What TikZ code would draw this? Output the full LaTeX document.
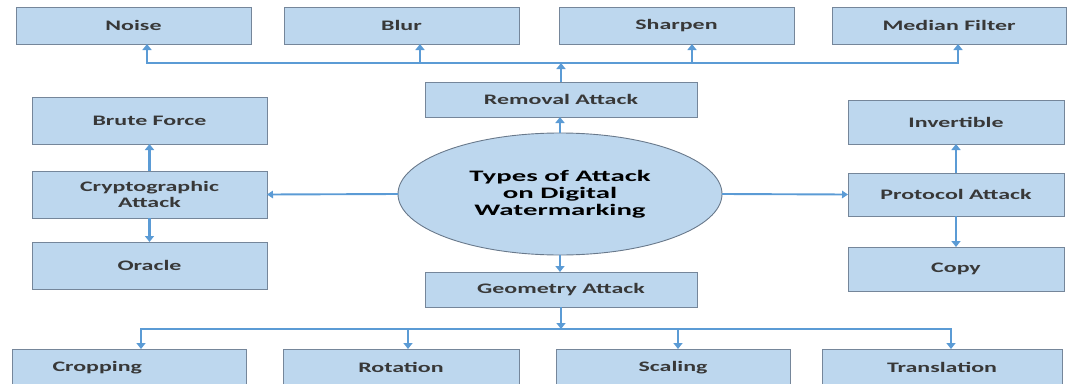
\documentclass[tikz,border=0pt]{standalone}
\usepackage{fontspec}
\usetikzlibrary{arrows.meta,shapes.geometric}
\newfontfamily\boxfont[FakeStretch=1.65]{Carlito}
\newfontfamily\ellfont[FakeStretch=1.8]{Carlito}
\definecolor{boxfill}{HTML}{BDD7EE}
\definecolor{boxline}{HTML}{75869A}
\definecolor{boxtext}{HTML}{383838}
\definecolor{arrowblue}{HTML}{5B9BD5}
\tikzset{
  box/.style={draw=boxline, fill=boxfill, line width=0.9pt, inner sep=0pt,
    outer sep=0pt, align=center, text=boxtext,
    font=\boxfont\bfseries\fontsize{14.5}{16}\selectfont},
  rootnode/.style={ellipse, draw=boxline!90!black, fill=boxfill, line width=0.9pt,
    inner sep=0pt, outer sep=0pt, align=center, text=black,
    font=\ellfont\bfseries\fontsize{16}{17}\selectfont},
  bus/.style={draw=arrowblue, line width=2.9pt, line cap=rect},
  conn/.style={draw=arrowblue, line width=2.9pt, -{Triangle[length=6pt,width=9pt]}},
  connthin/.style={draw=arrowblue, line width=1.9pt, -{Triangle[length=6pt,width=7.5pt]}},
}
\begin{document}
\begin{tikzpicture}[x=1pt, y=-1pt]
\useasboundingbox (0,0) rectangle (1071,383);
\clip (0,0) rectangle (1071,383);

% removal attacks (top row)
\node[box, minimum width=235pt, minimum height=37pt] (noise)   at (133.5,25.5) {Noise};
\node[box, minimum width=235pt, minimum height=37pt] (blur)    at (401.5,25.5) {Blur};
\node[box, minimum width=235pt, minimum height=37pt] (sharpen) at (676.5,25.5) {Sharpen};
\node[box, minimum width=234pt, minimum height=37pt] (median)  at (949,25.5)   {Median Filter};
\node[box, minimum width=272pt, minimum height=35pt] (removal) at (561,99.5)   {Removal Attack};

% centre
\node[rootnode, minimum width=324pt, minimum height=122pt] (root) at (560,194)
  {Types of Attack\\on Digital\\Watermarking};

% cryptographic attacks (left column)
\node[box, minimum width=235pt, minimum height=47pt] (brute)  at (149.5,120.5) {Brute Force};
\node[box, minimum width=235pt, minimum height=47pt] (crypto) at (149.5,194.5) {Cryptographic\\Attack};
\node[box, minimum width=235pt, minimum height=47pt] (oracle) at (149.5,265.5) {Oracle};

% protocol attacks (right column)
\node[box, minimum width=216pt, minimum height=44pt] (invert)   at (956,122)   {Invertible};
\node[box, minimum width=216pt, minimum height=43pt] (protocol) at (956,194.5) {Protocol Attack};
\node[box, minimum width=216pt, minimum height=44pt] (copy)     at (956,269)   {Copy};

% geometry attacks (bottom row)
\node[box, minimum width=272pt, minimum height=35pt] (geometry) at (561,289.5) {Geometry Attack};
\node[box, text width=154pt, inner xsep=40pt, align=left, minimum height=37pt] (crop) at (129.5,367.5) {Cropping};
\node[box, minimum width=236pt, minimum height=37pt] (rot)   at (401,367.5) {Rotation};
\node[box, minimum width=234pt, minimum height=37pt] (scal)  at (673,367.5) {Scaling};
\node[box, minimum width=240pt, minimum height=37pt] (trans) at (942,367.5) {Translation};

% top bus
\coordinate (tb1) at (147,63);
\coordinate (tb2) at (420,63);
\coordinate (tb3) at (692,63);
\coordinate (tb4) at (958,63);
\coordinate (tbm) at (561,63);
\draw[bus] (tb1) -- (tb4);
\draw[conn] (removal.north) -- (tbm);
\draw[conn] (tb1) -- (tb1 |- noise.south);
\draw[conn] (tb2) -- (tb2 |- blur.south);
\draw[conn] (tb3) -- (tb3 |- sharpen.south);
\draw[conn] (tb4) -- (tb4 |- median.south);

% bottom bus
\coordinate (bb1) at (141,329);
\coordinate (bb2) at (408,329);
\coordinate (bb3) at (678,329);
\coordinate (bb4) at (951,329);
\coordinate (bbm) at (561,329);
\draw[bus] (bb1) -- (bb4);
\draw[conn] (geometry.south) -- (bbm);
\draw[conn] (bb1) -- (bb1 |- crop.north);
\draw[conn] (bb2) -- (bb2 |- rot.north);
\draw[conn] (bb3) -- (bb3 |- scal.north);
\draw[conn] (bb4) -- (bb4 |- trans.north);

% centre to the four attack groups
\draw[conn] (root.north) -- (root.north |- removal.south);
\draw[conn] (root.south) -- (root.south |- geometry.north);
\draw[connthin] (root.west) -- (crypto.east);
\draw[connthin] (root.east) -- (protocol.west);

% column links
\draw[conn] (crypto.north) -- (brute.south);
\draw[conn] (crypto.south) -- (oracle.north);
\draw[conn] (protocol.north) -- (invert.south);
\draw[conn] (protocol.south) -- (copy.north);
\end{tikzpicture}
\end{document}
